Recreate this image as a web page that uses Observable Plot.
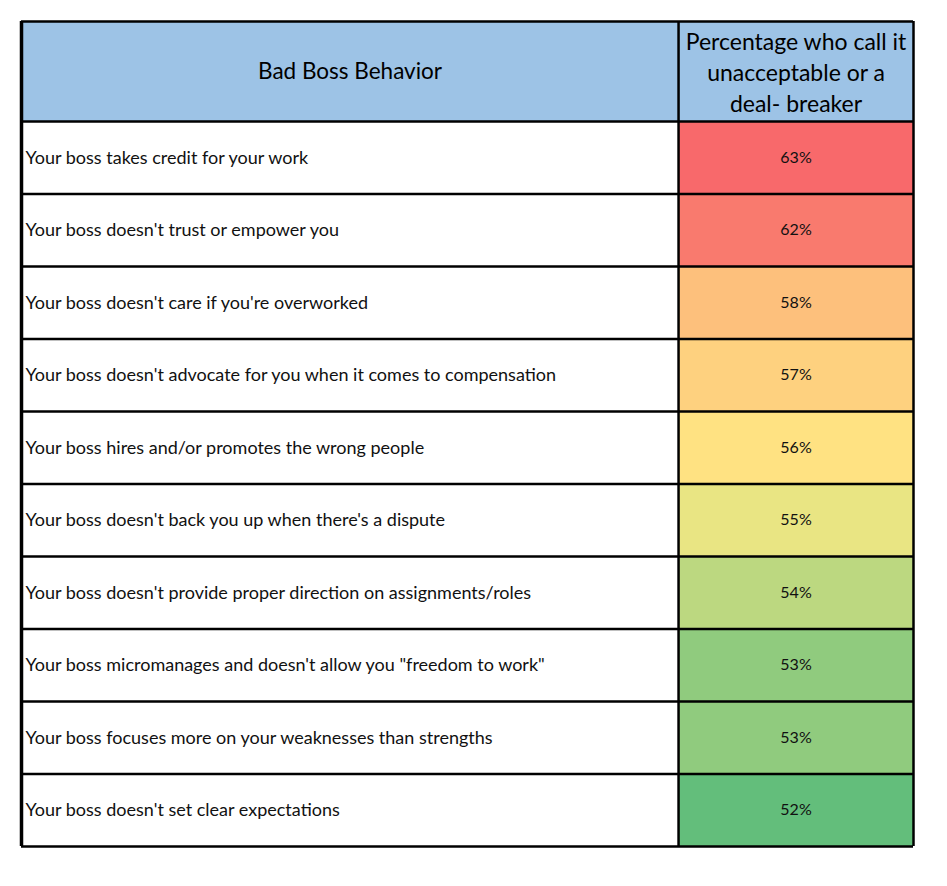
<!DOCTYPE html>
<html>
<head>
<meta charset="utf-8">
<script src="https://cdn.jsdelivr.net/npm/d3@7"></script>
<script src="https://cdn.jsdelivr.net/npm/@observablehq/plot@0.6"></script>
<style>
  html, body { margin: 0; padding: 0; background: #fff; }
</style>
</head>
<body>
<div id="chart"></div>
<script>
const behaviors = [
  "Your boss takes credit for your work",
  "Your boss doesn't trust or empower you",
  "Your boss doesn't care if you're overworked",
  "Your boss doesn't advocate for you when it comes to compensation",
  "Your boss hires and/or promotes the wrong people",
  "Your boss doesn't back you up when there's a dispute",
  "Your boss doesn't provide proper direction on assignments/roles",
  "Your boss micromanages and doesn't allow you \"freedom to work\"",
  "Your boss focuses more on your weaknesses than strengths",
  "Your boss doesn't set clear expectations"
];
const percents = [63, 62, 58, 57, 56, 55, 54, 53, 53, 52];
const headerLeft = "Bad Boss Behavior";
const headerRight = "Percentage who call it\nunacceptable or a\ndeal- breaker";

const rows = behaviors.map((b, i) => ({behavior: b, pct: percents[i], i}));
const headerRows = 100 / 72.5;   // header height in row units
const split = 0.7366;            // column boundary as fraction of table width
const font = "Lato, 'Open Sans', sans-serif";

const boundaries = [-headerRows, ...d3.range(0, rows.length + 1)];

const chart = Plot.plot({
  width: 947,
  height: 886,
  marginLeft: 21,
  marginRight: 34,
  marginTop: 21,
  marginBottom: 40,
  style: {fontFamily: font, background: "#fff"},
  x: {domain: [0, 1], axis: null},
  y: {domain: [-headerRows, rows.length], reverse: true, axis: null},
  color: {
    type: "linear",
    domain: [d3.min(percents), d3.median(percents), d3.max(percents)],
    range: ["#63BE7B", "#FFEB84", "#F8696B"],
    interpolate: "rgb"
  },
  marks: [
    // header background
    Plot.rect([0], {x1: 0, x2: 1, y1: -headerRows, y2: 0, fill: "#9DC3E6"}),
    // value cells
    Plot.rect(rows, {x1: split, x2: 1, y1: d => d.i, y2: d => d.i + 1, fill: "pct"}),
    // header texts
    Plot.text([headerLeft], {x: split / 2, y: -headerRows / 2, text: d => d, fontSize: 22.5, fill: "#000"}),
    Plot.text([headerRight], {x: (split + 1) / 2, y: -headerRows / 2, text: d => d, fontSize: 23, lineHeight: 1.35, fill: "#000"}),
    // row labels
    Plot.text(rows, {x: 0, y: d => d.i + 0.5, text: "behavior", textAnchor: "start", dx: 4, fontSize: 18, fill: "#111"}),
    // value labels
    Plot.text(rows, {x: (split + 1) / 2, y: d => d.i + 0.5, text: d => d.pct + "%", fontSize: 16, fill: "#111"}),
    // grid lines
    Plot.ruleY(boundaries, {x1: 0, x2: 1, stroke: "#000", strokeWidth: 2.5}),
    Plot.ruleX([split, 1], {y1: -headerRows, y2: rows.length, stroke: "#000", strokeWidth: 2.5}),
    Plot.ruleX([0], {y1: -headerRows, y2: rows.length, stroke: "#000", strokeWidth: 3.5})
  ]
});
document.getElementById("chart").appendChild(chart);
</script>
</body>
</html>
